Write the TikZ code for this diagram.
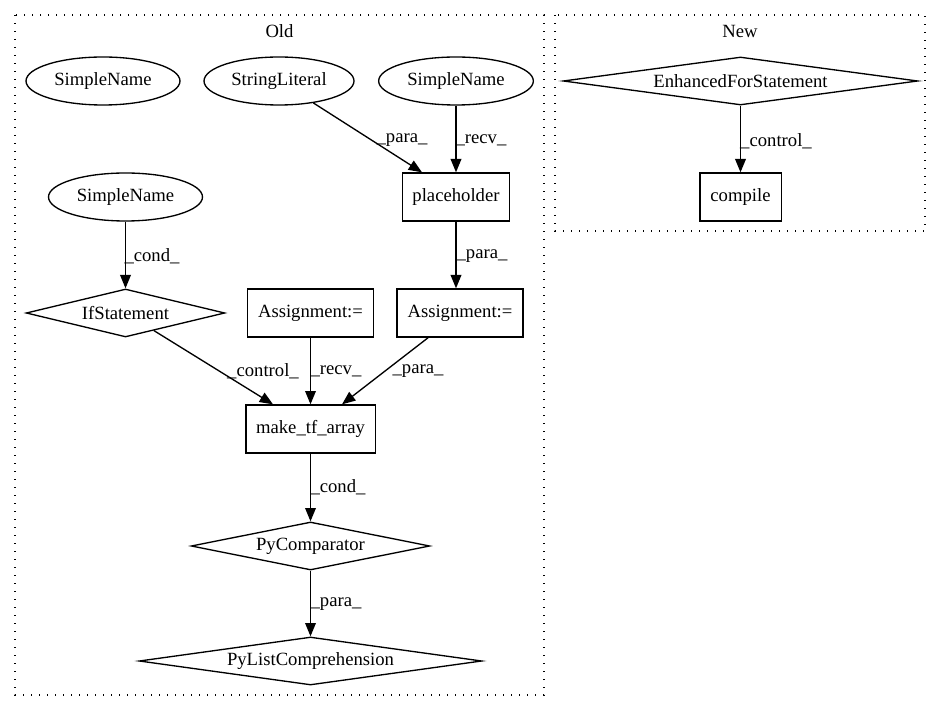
\documentclass[tikz,border=0pt]{standalone}
\usepackage{fontspec}
\setmainfont{Liberation Serif}
\usetikzlibrary{shapes.geometric,arrows.meta,calc}
\begin{document}
\begin{tikzpicture}[x=0.75pt,y=-0.75pt,
  every node/.style={font=\fontsize{14}{16}\selectfont, inner sep=0pt},
  ell/.style={draw, ellipse, line width=1pt, minimum height=36pt},
  box/.style={draw, rectangle, line width=1pt, minimum height=36pt},
  dia/.style={draw, diamond, line width=1pt, minimum height=36pt},
  edge/.style={line width=1pt, -{Triangle[length=10pt,width=8pt]}},
  cluster/.style={draw, line width=0.9pt, dash pattern=on 1pt off 5pt}]
\useasboundingbox (0,0) rectangle (941,712);

% clusters
\draw[cluster] (15,15) rectangle (544,695);
\node (oldlab) at (279.5,31) {Old};
\draw[cluster] (555,15) rectangle (925,231);
\node (newlab) at (740,31) {New};

% Old nodes
\node[ell, minimum width=115.5pt] (sn1) at (103,81) {SimpleName};
\node[ell, minimum width=112.5pt] (sl) at (279,81) {StringLiteral};
\node[ell, minimum width=116pt] (sn2) at (456,81) {SimpleName};
\node[box, minimum width=80pt] (ph) at (456,197) {placeholder};
\node[ell, minimum width=115.5pt] (sn3) at (125.5,197) {SimpleName};
\node[dia, aspect=5, minimum width=149pt] (if) at (125.5,313) {IfStatement};
\node[box, minimum width=94.5pt] (asg1) at (310.5,313) {Assignment:=};
\node[box, minimum width=94.5pt] (asg2) at (460,313) {Assignment:=};
\node[box, minimum width=97pt] (mk) at (310.5,429) {make\_tf\_array};
\node[dia, aspect=5, minimum width=179pt] (pyc) at (310.5,546) {PyComparator};
\node[dia, aspect=7, minimum width=257pt] (plc) at (310.5,661) {PyListComprehension};

% New nodes
\node[dia, aspect=7, minimum width=266pt] (efs) at (740.5,81) {EnhancedForStatement};
\node[box, minimum width=61pt] (cmp) at (740.5,197) {compile};

% edges
\draw[edge] (sl) -- ($(ph.north)+(-34,0)$);
\node (l1) at (402,140) {\_para\_};
\draw[edge] (sn2) -- (ph);
\node (l2) at (481,140) {\_recv\_};
\draw[edge] (ph.south) -- (ph.south |- asg2.north);
\node (l3) at (482,256) {\_para\_};
\draw[edge] (sn3) -- (if);
\node (l4) at (152,256) {\_cond\_};
\draw[edge] (if) -- ($(mk.north)+(-37.5,0)$);
\node (l5) at (263,371) {\_control\_};
\draw[edge] (asg1) -- (mk);
\node (l6) at (336,371) {\_recv\_};
\draw[edge] (asg2) -- ($(mk.north)+(31.5,0)$);
\node (l7) at (418,371) {\_para\_};
\draw[edge] (mk) -- (pyc);
\node (l8) at (338,487) {\_cond\_};
\draw[edge] (pyc) -- (plc);
\node (l9) at (336,604) {\_para\_};
\draw[edge] (efs) -- (cmp);
\node (l10) at (776,141) {\_control\_};
\end{tikzpicture}
\end{document}
